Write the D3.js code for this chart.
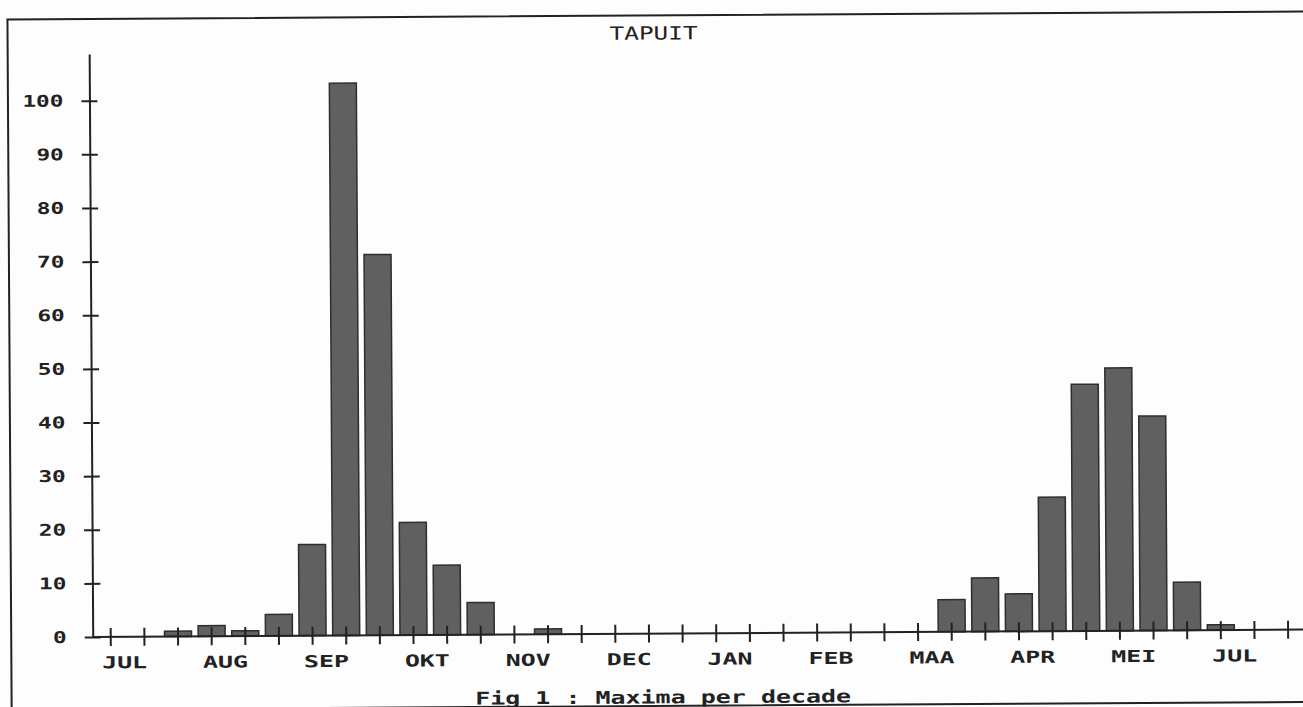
<!DOCTYPE html>
<html>
<head>
<meta charset="utf-8">
<script src="https://cdn.jsdelivr.net/npm/d3@7"></script>
<style>
  body { margin: 0; background: #fdfdfd; }
  svg { display: block; }
  text { font-family: "DejaVu Sans Mono", monospace; fill: #222; }
</style>
</head>
<body>
<svg id="chart" width="1303" height="707"></svg>
<script>
// decade index 0..35, starting with first decade of July
const decades = d3.range(36);
const months = ["JUL", "AUG", "SEP", "OKT", "NOV", "DEC", "JAN", "FEB", "MAA", "APR", "MEI", "JUL"];
const maxima = [0, 0, 1, 2, 1, 4, 17, 103, 71, 21, 13, 6, 0, 1,
                0, 0, 0, 0, 0, 0, 0, 0, 0, 0, 0,
                6, 10, 7, 25, 46, 49, 40, 9, 1, 0, 0];
const yTicks = d3.range(0, 101, 10);
const title = "TAPUIT";
const caption = "Fig 1 : Maxima per decade";

const svg = d3.select("#chart");
// the scanned page is slightly tilted
const g = svg.append("g").attr("transform", "rotate(-0.35, 651, 353)");

// frame
g.append("rect")
    .attr("x", 9.5).attr("y", 15.5)
    .attr("width", 1310).attr("height", 690.5)
    .attr("fill", "none").attr("stroke", "#222").attr("stroke-width", 2);

const x = d3.scaleBand()
    .domain(decades)
    .range([92.2, 1303.2])
    .paddingInner(0.2)
    .paddingOuter(0.1);

const y = d3.scaleLinear()
    .domain([0, 108.7])
    .range([633.6, 50.6]);

const step = x.step();
const xc = i => 92.2 + step * (i + 0.5);

// bars
g.append("g").selectAll("rect")
    .data(decades.filter(i => maxima[i] > 0))
    .join("rect")
    .attr("x", i => xc(i) - 13.5)
    .attr("width", 27)
    .attr("y", i => y(maxima[i]))
    .attr("height", i => y(0) - y(maxima[i]))
    .attr("fill", "#606060")
    .attr("stroke", "#2e2e2e")
    .attr("stroke-width", 1.5);

// y axis
const yAxis = g.append("g")
    .attr("transform", `translate(91,0)`)
    .call(d3.axisLeft(y).tickValues(yTicks).tickSize(8).tickPadding(18).tickSizeOuter(0));
yAxis.select(".domain").attr("stroke", "#222").attr("stroke-width", 2);
yAxis.selectAll(".tick line").attr("x1", 8).attr("x2", -8).attr("stroke", "#222").attr("stroke-width", 2);
yAxis.selectAll(".tick text")
    .attr("font-family", "DejaVu Sans Mono")
    .attr("font-size", 16)
    .attr("font-weight", "bold")
    .attr("fill", "#222")
    .attr("textLength", d => String(d).length * 13.7)
    .attr("lengthAdjust", "spacingAndGlyphs");

// x axis line and decade ticks
const xAxis = g.append("g");
xAxis.append("line")
    .attr("x1", 91).attr("x2", 1310)
    .attr("y1", y(0)).attr("y2", y(0))
    .attr("stroke", "#222").attr("stroke-width", 2);
xAxis.selectAll("line.tick")
    .data(decades)
    .join("line")
    .attr("class", "tick")
    .attr("x1", i => xc(i)).attr("x2", i => xc(i))
    .attr("y1", y(0) - 9).attr("y2", y(0) + 9)
    .attr("stroke", "#222").attr("stroke-width", 2);

// month labels
xAxis.selectAll("text")
    .data(months)
    .join("text")
    .attr("x", (m, k) => xc(k * 3) + 13.7)
    .attr("y", 665)
    .attr("text-anchor", "middle")
    .attr("font-size", 16.5)
    .attr("font-weight", "bold")
    .attr("textLength", m => m.length * 15)
    .attr("lengthAdjust", "spacingAndGlyphs")
    .text(m => m);

// title and caption
g.append("text")
    .attr("x", 655.5).attr("y", 39.5)
    .attr("text-anchor", "middle")
    .attr("font-size", 18)
    .attr("textLength", 88)
    .attr("lengthAdjust", "spacingAndGlyphs")
    .text(title);

g.append("text")
    .attr("x", 661).attr("y", 703.4)
    .attr("text-anchor", "middle")
    .attr("font-size", 17.5)
    .attr("font-weight", "bold")
    .attr("textLength", 376)
    .attr("lengthAdjust", "spacingAndGlyphs")
    .text(caption);
</script>
</body>
</html>
